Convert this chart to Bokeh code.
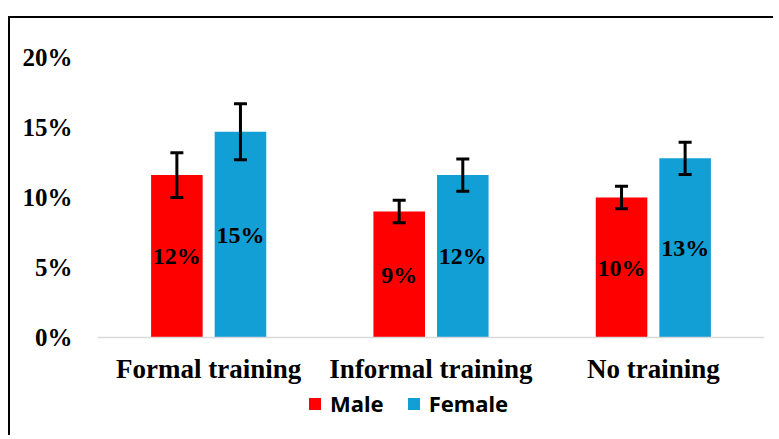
from bokeh.plotting import figure
from bokeh.models import (ColumnDataSource, FactorRange, Whisker, Legend, LegendItem, FixedTicker,
                          NumeralTickFormatter, TeeHead)
from bokeh.transform import dodge
from bokeh.core.properties import value
from bokeh.embed import file_html
from bokeh.resources import INLINE

categories = ["Formal training", "Informal training", "No training"]
male = [0.116, 0.090, 0.100]
female = [0.147, 0.116, 0.128]
male_err = [0.016, 0.008, 0.008]
female_err = [0.020, 0.0115, 0.0115]
y_ticks = [0.0, 0.05, 0.10, 0.15, 0.20]

RED = "#FF0000"
BLUE = "#119FD6"
SERIF = "Liberation Serif"

def make_source(vals, errs):
    return ColumnDataSource(dict(
        cat=categories,
        val=vals,
        mid=[v / 2 for v in vals],
        upper=[v + e for v, e in zip(vals, errs)],
        lower=[v - e for v, e in zip(vals, errs)],
        label=[f"{round(v * 100)}%" for v in vals],
    ))

src_m = make_source(male, male_err)
src_f = make_source(female, female_err)

p = figure(x_range=FactorRange(factors=categories, range_padding=0), y_range=(-0.07, 0.2),
           width=765, height=419, output_backend="svg", toolbar_location=None,
           min_border_left=87, min_border_right=11, min_border_top=39, min_border_bottom=2)
p.styles = {"border-left": "2px solid black", "border-top": "2px solid black",
            "margin-top": "16px", "margin-left": "8px"}
p.outline_line_color = None
p.xgrid.grid_line_color = None
p.ygrid.grid_line_color = None

off = 0.143
bw = 0.232
r_m = p.vbar(x=dodge("cat", -off, range=p.x_range), top="val", width=bw, source=src_m,
             fill_color=RED, line_color=None)
r_f = p.vbar(x=dodge("cat", off, range=p.x_range), top="val", width=bw, source=src_f,
             fill_color=BLUE, line_color=None)

for src, o in ((src_m, -off), (src_f, off)):
    w = Whisker(base=dodge("cat", o, range=p.x_range), upper="upper", lower="lower", source=src,
                line_color="black", line_width=3, level="overlay",
                upper_head=TeeHead(size=13, line_color="black", line_width=3),
                lower_head=TeeHead(size=13, line_color="black", line_width=3))
    p.add_layout(w)
    p.text(x=dodge("cat", o, range=p.x_range), y="mid", text="label", source=src,
           text_align="center", text_baseline="middle", text_font=value(SERIF),
           text_font_style="bold", text_font_size="24px", text_color="black")

p.yaxis.ticker = FixedTicker(ticks=y_ticks)
p.yaxis.formatter = NumeralTickFormatter(format="0%")
p.yaxis.axis_line_color = None
p.yaxis.major_tick_line_color = None
p.yaxis.minor_tick_line_color = None
p.yaxis.major_label_text_font = SERIF
p.yaxis.major_label_text_font_style = "bold"
p.yaxis.major_label_text_font_size = "25px"
p.yaxis.major_label_text_color = "black"
p.yaxis.major_label_standoff = 19

p.xaxis.fixed_location = 0
p.xaxis.axis_line_color = "#D9D9D9"
p.xaxis.axis_line_width = 1.5
p.xaxis.major_tick_line_color = None
p.xaxis.minor_tick_line_color = None
p.xaxis.major_label_text_font = SERIF
p.xaxis.major_label_text_font_style = "bold"
p.xaxis.major_label_text_font_size = "27px"
p.xaxis.major_label_text_color = "black"
p.xaxis.major_label_standoff = 10

legend = Legend(items=[LegendItem(label="Male", renderers=[r_m]),
                       LegendItem(label="Female", renderers=[r_f])],
                orientation="horizontal", location=(210, 17),
                label_text_font="Noto Sans", label_text_font_style="bold",
                label_text_font_size="22px", label_text_color="black",
                glyph_width=15, glyph_height=15, label_standoff=8, spacing=22,
                border_line_color=None, background_fill_alpha=0, padding=0, margin=0)
p.add_layout(legend, "center")

open("out.html", "w").write(file_html(p, INLINE))
